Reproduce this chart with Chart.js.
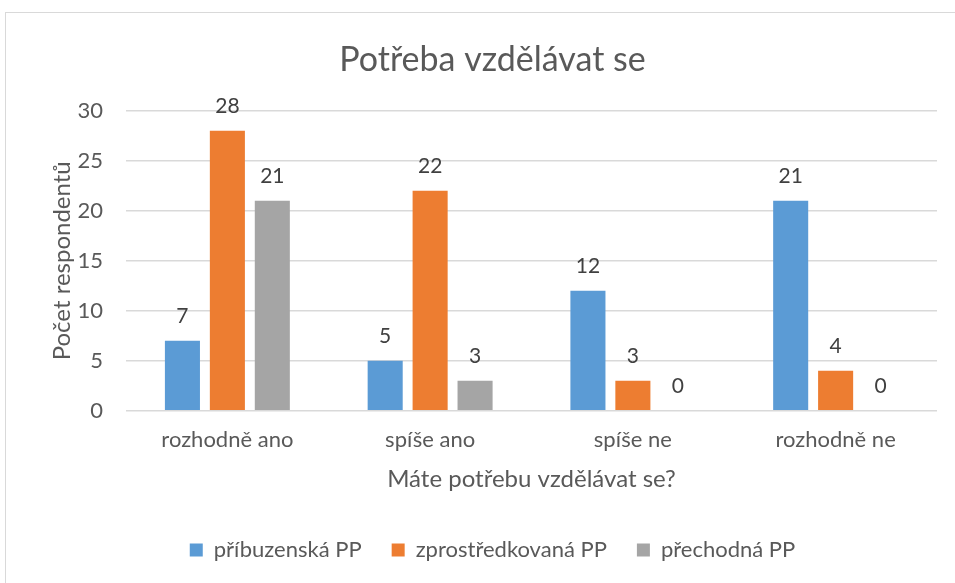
<!DOCTYPE html>
<html>
<head>
<meta charset="utf-8">
<script src="https://cdn.jsdelivr.net/npm/chart.js@4.4.0/dist/chart.umd.min.js"></script>
<style>
  body { margin: 0; background: #fff; }
  #frame { position: absolute; left: 5px; top: 12px; width: 1000px; height: 620px; border: 1px solid #d9d9d9; }
  #wrap { position: absolute; left: 0; top: 0; width: 955px; height: 583px; }
</style>
</head>
<body>
<div id="frame"></div>
<div id="wrap"><canvas id="myChart"></canvas></div>
<script>
// categories and series
var categories = ['rozhodně ano', 'spíše ano', 'spíše ne', 'rozhodně ne']
var pribuzenska = [7, 5, 12, 21]
var zprostredkovana = [28, 22, 3, 4]
var prechodna = [21, 3, 0, 0]
var yTicks = [0, 5, 10, 15, 20, 25, 30]

var fontFamily = 'Lato, "Open Sans", sans-serif'
var textColor = '#595959'

// draws the value above every bar (no datalabels plugin available offline)
var valueLabels = {
  id: 'valueLabels',
  afterDatasetsDraw: function (chart) {
    let ctx = chart.ctx
    ctx.save()
    ctx.font = '21px ' + fontFamily
    ctx.fillStyle = '#404040'
    ctx.textAlign = 'center'
    ctx.textBaseline = 'middle'
    chart.data.datasets.forEach(function (ds, i) {
      chart.getDatasetMeta(i).data.forEach(function (bar, j) {
        ctx.fillText(ds.data[j], bar.x, bar.y - 25)
      })
    })
    ctx.restore()
  }
}

let ctx = document.getElementById('myChart').getContext('2d');
let chart = new Chart(ctx, {
  type: 'bar',
  data: {
    labels: categories,
    datasets: [{
      label: 'příbuzenská PP',
      backgroundColor: '#5b9bd5',
      data: pribuzenska
    },
    {
      label: 'zprostředkovaná PP',
      backgroundColor: '#ed7d31',
      data: zprostredkovana
    },
    {
      label: 'přechodná PP',
      backgroundColor: '#a5a5a5',
      data: prechodna
    }]
  },
  options: {
    responsive: true,
    maintainAspectRatio: false,
    animation: false,
    layout: { padding: { left: 48, right: 18, top: 40, bottom: 12 } },
    datasets: { bar: { categoryPercentage: 0.665, barPercentage: 0.78 } },
    plugins: {
      tooltip: { enabled: false },
      title: {
        display: true,
        text: 'Potřeba vzdělávat se',
        color: textColor,
        font: { family: fontFamily, size: 34, weight: 'normal' },
        padding: { top: 0, bottom: 30 }
      },
      legend: {
        position: 'bottom',
        labels: {
          color: textColor,
          font: { family: fontFamily, size: 22 },
          boxWidth: 13,
          boxHeight: 13,
          padding: 30
        }
      }
    },
    scales: {
      x: {
        grid: { display: false, drawTicks: false },
        border: { display: false },
        ticks: { color: textColor, font: { family: fontFamily, size: 22 }, padding: 16 },
        title: {
          display: true,
          text: 'Máte potřebu vzdělávat se?',
          color: textColor,
          font: { family: fontFamily, size: 24 },
          padding: { top: -4, bottom: 15 }
        }
      },
      y: {
        min: 0,
        max: 30,
        afterBuildTicks: function (axis) { axis.ticks = yTicks.map(function (v) { return { value: v } }) },
        afterFit: function (axis) { axis.width = 78 },
        grid: { color: '#d9d9d9', lineWidth: 1.5, drawTicks: false },
        border: { display: false },
        ticks: { color: textColor, font: { family: fontFamily, size: 22 }, padding: 23 },
        title: {
          display: true,
          text: 'Počet respondentů',
          color: textColor,
          font: { family: fontFamily, size: 24 },
          padding: { top: 0, bottom: 2 }
        }
      }
    }
  },
  plugins: [valueLabels]
});
</script>
</body>
</html>
